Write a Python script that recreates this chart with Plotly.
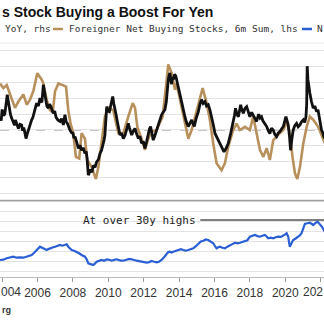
import plotly.graph_objects as go

W, H = 324, 325

# ---- data (decimal years) ----
black_x = [2003.88, 2003.95, 2004.00, 2004.08, 2004.15, 2004.22, 2004.29, 2004.35, 2004.40, 2004.47, 2004.52,
           2004.58, 2004.63, 2004.70, 2004.75, 2004.83, 2004.92, 2005.01, 2005.10, 2005.16, 2005.22, 2005.29,
           2005.35, 2005.42, 2005.50, 2005.58, 2005.67, 2005.74, 2005.80, 2005.88, 2005.95, 2006.05, 2006.14,
           2006.20, 2006.25, 2006.33, 2006.40, 2006.45, 2006.53, 2006.61, 2006.68, 2006.75, 2006.82, 2006.89,
           2006.97, 2007.05, 2007.15, 2007.27, 2007.36, 2007.46, 2007.55, 2007.62, 2007.70, 2007.76, 2007.83,
           2007.92, 2008.00, 2008.06, 2008.12, 2008.22, 2008.31, 2008.40, 2008.49, 2008.58, 2008.68, 2008.75,
           2008.80, 2008.87, 2008.94, 2009.00, 2009.08, 2009.15, 2009.25, 2009.34, 2009.44, 2009.53, 2009.62,
           2009.70, 2009.76, 2009.81, 2009.86, 2009.91, 2009.98, 2010.06, 2010.15, 2010.25, 2010.31, 2010.38,
           2010.45, 2010.51, 2010.58, 2010.66, 2010.75, 2010.85, 2010.95, 2011.04, 2011.13, 2011.20, 2011.26,
           2011.32, 2011.42, 2011.51, 2011.60, 2011.70, 2011.79, 2011.88, 2011.98, 2012.07, 2012.16, 2012.26,
           2012.33, 2012.39, 2012.46, 2012.54, 2012.63, 2012.73, 2012.82, 2012.90, 2013.01, 2013.10, 2013.20,
           2013.28, 2013.33, 2013.39, 2013.44, 2013.48, 2013.53, 2013.58, 2013.63, 2013.67, 2013.75, 2013.82,
           2013.89, 2013.96, 2014.05, 2014.14, 2014.24, 2014.33, 2014.42, 2014.52, 2014.62, 2014.71, 2014.79,
           2014.86, 2014.97, 2015.09, 2015.18, 2015.27, 2015.36, 2015.46, 2015.55, 2015.65, 2015.75, 2015.84,
           2015.94, 2016.03, 2016.12, 2016.21, 2016.30, 2016.40, 2016.47, 2016.54, 2016.66, 2016.78, 2016.92,
           2017.06, 2017.13, 2017.19, 2017.27, 2017.35, 2017.42, 2017.48, 2017.55, 2017.63, 2017.72, 2017.82,
           2017.91, 2018.00, 2018.10, 2018.19, 2018.28, 2018.38, 2018.44, 2018.50, 2018.58, 2018.66, 2018.73,
           2018.80, 2018.88, 2018.95, 2019.04, 2019.13, 2019.22, 2019.32, 2019.41, 2019.51, 2019.60, 2019.70,
           2019.80, 2019.89, 2019.97, 2020.04, 2020.10, 2020.17, 2020.24, 2020.30, 2020.37, 2020.45, 2020.54,
           2020.64, 2020.73, 2020.83, 2020.92, 2021.02, 2021.10, 2021.17, 2021.21, 2021.24, 2021.28, 2021.33,
           2021.39, 2021.48, 2021.58, 2021.67, 2021.77, 2021.85, 2021.92, 2021.98, 2022.05, 2022.12, 2022.18,
           2022.30]
black_y = [4.2, 3.0, 6.5, 4.6, 5.0, 8.0, 11.2, 9.0, 7.0, 5.0, 4.0,
           3.2, 2.7, 1.5, 3.2, 1.8, 0.5, 1.8, 1.6, -0.2, 0.8, -1.0,
           -2.7, -1.2, 0.5, 1.5, 3.2, 4.0, 5.5, 7.2, 8.5, 7.6, 10.1,
           9.0, 8.8, 14.3, 11.8, 10.0, 7.5, 6.9, 8.2, 7.5, 6.2, 5.3,
           6.0, 4.0, 3.2, 2.7, 3.6, 1.6, 4.8, 2.6, 2.0, 0.8, 0.0,
           -0.8, -1.0, -2.6, -2.1, -4.0, -5.8, -4.8, -6.4, -5.6, -7.4, -6.8,
           -9.0, -14.3, -13.0, -12.5, -13.4, -11.2, -11.8, -10.1, -9.4, -7.4, -6.4,
           -5.0, -3.2, -1.6, 3.0, 7.4, 6.0, 5.8, 8.0, 10.6, 8.4, 6.9,
           4.6, 2.7, 0.8, -1.6, -1.0, -2.7, -1.6, 0.0, 2.1, 0.6, -0.6,
           -1.6, -0.3, 0.5, -1.2, -2.7, -2.0, -4.2, -3.6, -5.8, -3.8, -1.1,
           0.4, 1.1, -0.8, -3.2, -1.8, 0.0, 1.0, 2.5, 4.8, 5.6, 6.4,
           9.0, 13.0, 15.9, 17.4, 18.1, 15.8, 14.5, 16.8, 15.9, 17.6, 17.0,
           15.2, 13.8, 11.2, 9.0, 6.0, 4.2, 2.4, 1.1, 2.2, 3.2, 2.0,
           1.1, 3.8, 5.8, 8.2, 9.6, 8.4, 9.0, 7.6, 8.0, 6.2, 4.2,
           1.5, -1.1, -2.2, -3.2, -4.4, -5.3, -6.3, -6.9, -5.8, -4.2, -1.0,
           2.1, 4.6, 6.9, 5.0, 4.2, 6.6, 8.0, 6.4, 5.3, 6.8, 7.4,
           5.8, 4.2, 5.6, 4.8, 3.6, 2.7, 4.0, 5.0, 3.8, 4.2, 3.0,
           2.5, 1.8, 1.1, -0.2, -1.1, 0.6, 0.0, -1.4, -2.1, -1.0, -0.5,
           0.4, 1.1, 2.8, 4.2, 3.0, 1.6, -2.0, -6.4, -3.0, 0.0, 1.4,
           2.1, 1.0, 1.6, 2.6, 3.2, 2.4, 4.2, 8.0, 20.2, 16.0, 13.5,
           11.7, 9.0, 6.9, 7.6, 5.8, 6.4, 4.2, 3.0, 0.0, -0.8, -2.1,
           -3.0]

tan_x = [2003.88, 2004.07, 2004.26, 2004.44, 2004.73, 2004.92, 2005.20, 2005.39, 2005.57, 2005.76, 2005.99,
         2006.23, 2006.33, 2006.52, 2006.70, 2006.86, 2006.99, 2007.18, 2007.46, 2007.61, 2007.74, 2007.87,
         2008.02, 2008.17, 2008.36, 2008.49, 2008.68, 2008.81, 2009.06, 2009.30, 2009.44, 2009.62, 2009.81,
         2010.00, 2010.28, 2010.57, 2010.85, 2011.13, 2011.38, 2011.51, 2011.64, 2011.88, 2012.07, 2012.26,
         2012.45, 2012.73, 2013.07, 2013.24, 2013.39, 2013.58, 2013.77, 2013.86, 2014.05, 2014.24, 2014.52,
         2014.71, 2014.99, 2015.33, 2015.56, 2015.74, 2015.93, 2016.12, 2016.40, 2016.59, 2016.78, 2017.06,
         2017.25, 2017.44, 2017.72, 2018.00, 2018.19, 2018.38, 2018.57, 2018.76, 2018.95, 2019.13, 2019.32,
         2019.60, 2019.89, 2020.08, 2020.26, 2020.41, 2020.55, 2020.68, 2020.83, 2021.02, 2021.21, 2021.39,
         2021.58, 2021.86, 2022.15, 2022.30]
tan_y = [5.9, 5.3, 5.7, 4.5, 2.8, 3.6, 4.5, 3.2, 3.8, 4.9, 7.2,
         6.4, 5.9, 3.8, 2.5, 2.3, 4.9, 5.9, 5.7, 5.5, 2.5, 0.8,
         -0.4, -3.4, -3.6, -0.4, -1.1, -3.8, -4.7, -6.2, -4.7, -1.7, 1.7,
         2.8, 2.5, -0.4, -0.4, 1.7, 3.4, 2.8, 0.4, -1.1, -2.5, -1.1,
         -0.2, 0.0, 1.7, 5.1, 8.3, 7.2, 5.1, 5.9, 3.8, 1.7, -1.1,
         0.0, 2.3, 5.3, 3.4, 1.3, -1.7, -4.2, -5.1, -4.2, -2.1, 0.0,
         0.8, 0.0, 0.4, 0.0, 1.7, -0.2, -2.5, -3.4, -2.3, -3.8, -1.3,
         -0.6, 0.0, 1.1, -0.4, -3.4, -5.5, -6.2, -4.7, -1.7, 0.4, 1.7,
         1.3, 0.4, -1.3, -2.0]

blue_x = [2003.88, 2004.07, 2004.26, 2004.45, 2004.63, 2004.82, 2005.01, 2005.20, 2005.39, 2005.53, 2005.67,
          2005.81, 2005.95, 2006.05, 2006.14, 2006.23, 2006.33, 2006.43, 2006.52, 2006.61, 2006.70, 2006.85,
          2006.99, 2007.13, 2007.27, 2007.41, 2007.55, 2007.65, 2007.74, 2007.83, 2007.93, 2008.07, 2008.21,
          2008.35, 2008.49, 2008.58, 2008.68, 2008.78, 2008.87, 2009.00, 2009.15, 2009.24, 2009.34, 2009.48,
          2009.62, 2009.76, 2009.91, 2010.05, 2010.19, 2010.33, 2010.47, 2010.61, 2010.75, 2010.90, 2011.04,
          2011.18, 2011.32, 2011.46, 2011.60, 2011.74, 2011.88, 2012.03, 2012.17, 2012.31, 2012.45, 2012.59,
          2012.73, 2012.87, 2013.01, 2013.15, 2013.30, 2013.39, 2013.48, 2013.58, 2013.67, 2013.81, 2013.96,
          2014.10, 2014.24, 2014.38, 2014.52, 2014.66, 2014.80, 2014.95, 2015.09, 2015.23, 2015.37, 2015.51,
          2015.65, 2015.79, 2015.93, 2016.03, 2016.12, 2016.22, 2016.31, 2016.45, 2016.59, 2016.73, 2016.87,
          2017.01, 2017.16, 2017.30, 2017.44, 2017.58, 2017.72, 2017.86, 2018.00, 2018.14, 2018.29, 2018.43,
          2018.57, 2018.71, 2018.85, 2018.95, 2019.04, 2019.18, 2019.32, 2019.46, 2019.60, 2019.75, 2019.89,
          2019.98, 2020.08, 2020.13, 2020.17, 2020.22, 2020.26, 2020.35, 2020.45, 2020.59, 2020.73, 2020.82,
          2020.92, 2021.02, 2021.11, 2021.25, 2021.39, 2021.48, 2021.58, 2021.70, 2021.82, 2021.89, 2021.96,
          2022.07, 2022.18, 2022.30]
blue_y = [11.7, 12.0, 13.4, 14.2, 15.0, 14.0, 14.4, 14.0, 15.0, 15.6, 16.7,
          19.0, 21.7, 23.0, 25.0, 24.2, 23.4, 22.4, 21.7, 22.6, 23.4, 24.2,
          25.0, 25.6, 26.7, 26.0, 26.7, 27.4, 25.0, 23.6, 21.7, 21.0, 20.0,
          18.4, 16.7, 16.0, 15.0, 12.4, 8.4, 7.6, 6.7, 8.0, 10.0, 10.8,
          11.7, 11.0, 12.4, 12.0, 11.0, 11.8, 12.4, 11.6, 11.0, 11.2, 11.7,
          12.8, 12.4, 11.4, 11.0, 10.6, 10.0, 9.6, 9.0, 9.6, 10.7, 10.0,
          9.4, 10.0, 11.7, 14.5, 18.4, 19.6, 20.0, 19.2, 20.0, 21.0, 21.7,
          22.6, 21.7, 21.0, 21.7, 22.8, 23.4, 25.5, 28.4, 30.2, 31.0, 32.2,
          31.7, 30.0, 28.4, 25.5, 23.4, 24.4, 25.0, 24.0, 23.4, 25.0, 26.7,
          27.6, 29.0, 28.4, 29.0, 29.8, 30.0, 31.5, 35.0, 35.8, 36.7, 35.6,
          35.0, 36.0, 36.7, 35.2, 33.4, 34.0, 33.4, 34.4, 35.0, 34.8, 35.7,
          37.0, 38.4, 36.5, 35.0, 29.0, 25.0, 28.5, 31.7, 33.2, 35.0, 36.2,
          38.4, 42.5, 47.7, 48.5, 49.0, 48.0, 46.7, 48.5, 50.0, 48.8, 47.7,
          45.0, 41.7, 38.0]

tick_years = [2004, 2006, 2008, 2010, 2012, 2014, 2016, 2018, 2020, 2022]
# the labels at both edges are only partly visible in the (cropped) reference
tick_text = ["004", "2006", "2008", "2010", "2012", "2014", "2016", "2018", "2020", "202"]

title_text = "s Stock Buying a Boost For Yen"
leg1 = "YoY, rhs"
leg2 = "Foreigner Net Buying Stocks, 6m Sum, lhs"
leg3 = "N"
note_text = "At over 30y highs"
source_text = "rg"

TAN = "#b8905c"
BLACK = "#111111"
BLUE = "#2a5fd4"
GRID = "#e3e3e3"
TICKFONT = dict(family="Liberation Sans Narrow, Liberation Sans, Arial", size=12, color="#333333")

def py(px):
    return 1 - px / H

def pxx(px):
    return px / W

fig = go.Figure()
fig.add_trace(go.Scatter(x=tan_x, y=tan_y, mode="lines", line=dict(color=TAN, width=2.6), yaxis="y", showlegend=False))
fig.add_trace(go.Scatter(x=black_x, y=black_y, mode="lines", line=dict(color=BLACK, width=2.8), yaxis="y2", showlegend=False))
fig.add_trace(go.Scatter(x=blue_x, y=blue_y, mode="lines", line=dict(color=BLUE, width=2.2), yaxis="y3", showlegend=False))

top_dom = [py(200), py(43)]
bot_dom = [py(277.3), py(200)]

inner_vals = tick_years[1:-1]
inner_text = tick_text[1:-1]

fig.update_layout(
    width=W, height=H,
    margin=dict(l=0, r=0, t=0, b=0, autoexpand=False),
    paper_bgcolor="white", plot_bgcolor="white",
    xaxis=dict(range=[2003.88, 2022.19], anchor="y3", tickvals=tick_years,
               ticktext=[""] + inner_text + [""],
               showgrid=False, zeroline=False, showline=True, linecolor="#bbbbbb", linewidth=1,
               ticks="outside", ticklen=4, tickcolor="#999999", ticklabeloverflow="allow", automargin=False,
               tickfont=TICKFONT),
    yaxis=dict(domain=top_dom, range=[-8.86, 11.01], dtick=2, showgrid=True, gridcolor=GRID, gridwidth=1,
               zeroline=False, showticklabels=False, ticks="", automargin=False),
    yaxis2=dict(overlaying="y", range=[-22.15, 27.53], showgrid=False, zeroline=False,
                showticklabels=False, side="right", automargin=False),
    yaxis3=dict(domain=bot_dom, range=[-5.6, 71.7], dtick=10, showgrid=True, gridcolor=GRID, gridwidth=1,
                zeroline=False, showticklabels=False, ticks="", automargin=False),
)

shapes = [
    dict(type="line", xref="paper", yref="y", x0=0, x1=1, y0=0, y1=0,
         line=dict(color="#8a8a8a", width=1, dash="dash"), layer="below"),
    dict(type="line", xref="paper", yref="paper", x0=0, x1=1, y0=py(200.5), y1=py(200.5),
         line=dict(color="#a0a0a0", width=1.5)),
    dict(type="line", xref="paper", yref="paper", x0=0, x1=1, y0=py(43), y1=py(43),
         line=dict(color="#e6e6e6", width=1)),
    dict(type="line", xref="x", yref="y3", x0=2015.2, x1=2022.19, y0=51.7, y1=51.7,
         line=dict(color="#555555", width=1.5)),
    dict(type="line", xref="paper", yref="paper", x0=pxx(53), x1=pxx(63), y0=py(29), y1=py(29),
         line=dict(color=TAN, width=2.5)),
    dict(type="line", xref="paper", yref="paper", x0=pxx(302), x1=pxx(312), y0=py(29), y1=py(29),
         line=dict(color=BLUE, width=2.5)),
]
fig.update_layout(shapes=shapes)

mono = "DejaVu Sans Mono"
ann = [
    dict(text="<b>" + title_text + "</b>", x=0, y=py(12), xref="paper", yref="paper", xanchor="left", yanchor="middle",
         showarrow=False, font=dict(family="Liberation Sans, Arial", size=14, color="#111111")),
    dict(text=leg1, x=pxx(3), y=py(29), xref="paper", yref="paper", xanchor="left", yanchor="middle",
         showarrow=False, font=dict(family=mono, size=9.5, color="#333333")),
    dict(text=leg2, x=pxx(67), y=py(29), xref="paper", yref="paper", xanchor="left", yanchor="middle",
         showarrow=False, font=dict(family=mono, size=9.5, color="#333333")),
    dict(text=leg3, x=pxx(315), y=py(29), xref="paper", yref="paper", xanchor="left", yanchor="middle",
         showarrow=False, font=dict(family=mono, size=9.5, color="#333333")),
    dict(text=note_text, x=pxx(198), y=py(220), xref="paper", yref="paper", xanchor="right", yanchor="middle",
         showarrow=False, font=dict(family=mono, size=11, color="#222222")),
    dict(text="<b>" + source_text + "</b>", x=0, y=py(310), xref="paper", yref="paper", xanchor="left", yanchor="middle",
         showarrow=False, font=dict(family="Liberation Sans, Arial", size=9, color="#333333")),
    # partial edge tick labels, kept inside the picture
    dict(text=tick_text[0], x=0, y=py(291.5), xref="paper", yref="paper", xanchor="left", yanchor="middle",
         showarrow=False, font=TICKFONT, borderpad=0),
    dict(text=tick_text[-1], x=1, y=py(291.5), xref="paper", yref="paper", xanchor="right", yanchor="middle",
         showarrow=False, font=TICKFONT, borderpad=0),
]
fig.update_layout(annotations=ann)

fig.write_html("out.html")
